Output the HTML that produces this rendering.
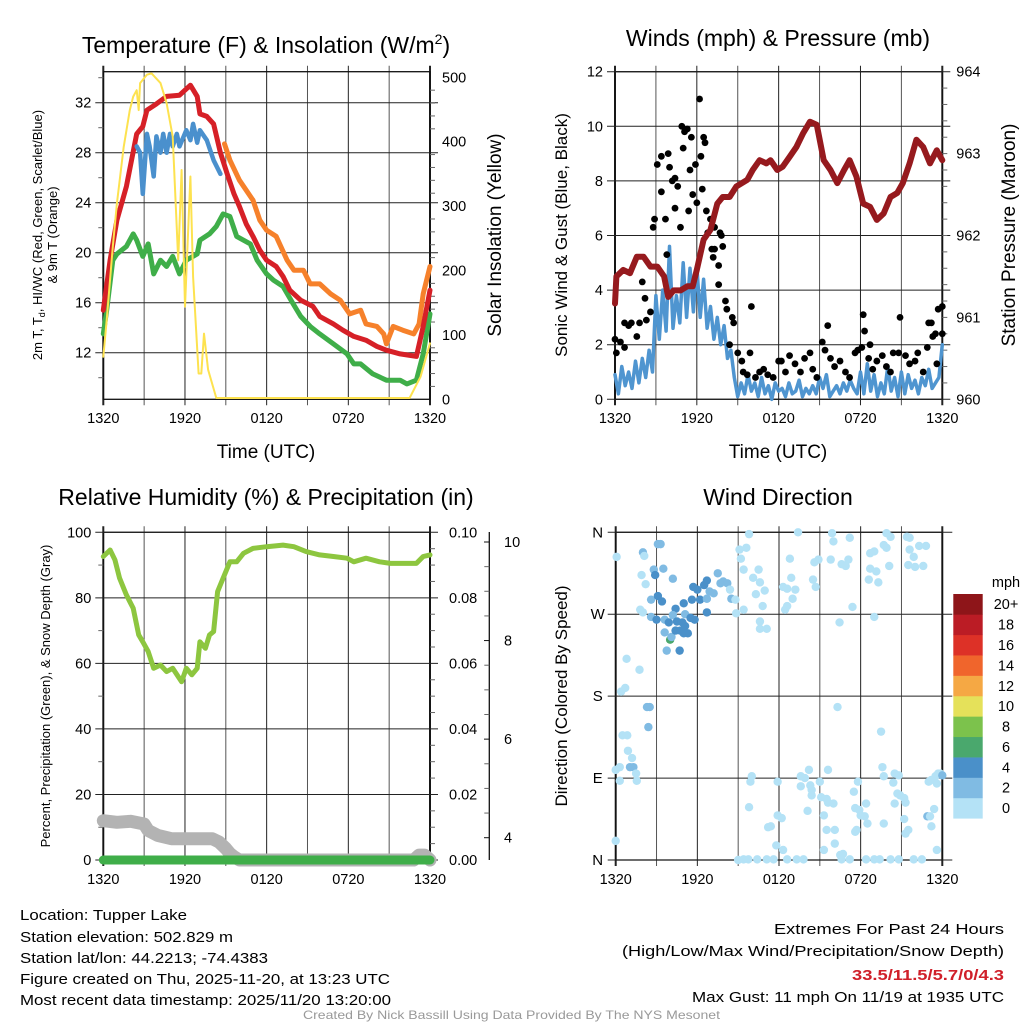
<!DOCTYPE html>
<html><head><meta charset="utf-8"><style>
html,body{margin:0;padding:0;background:#fff;}
svg{display:block;font-family:"Liberation Sans",sans-serif;}
</style></head><body>
<svg id="fig" width="1024" height="1024" viewBox="0 0 1024 1024" xmlns="http://www.w3.org/2000/svg">
<rect width="1024" height="1024" fill="#fff"/>
<g id="layer"></g>
<text x="266" y="53" font-size="23" text-anchor="middle">Temperature (F) &amp; Insolation (W/m<tspan dy="-9" font-size="14">2</tspan><tspan dy="9">)</tspan></text>
<text x="778" y="46" font-size="23" text-anchor="middle">Winds (mph) &amp; Pressure (mb)</text>
<text x="266" y="505" font-size="23" text-anchor="middle">Relative Humidity (%) &amp; Precipitation (in)</text>
<text x="778" y="505" font-size="23" text-anchor="middle">Wind Direction</text>
<text x="266" y="458" font-size="19" text-anchor="middle">Time (UTC)</text>
<text x="778" y="458" font-size="19" text-anchor="middle">Time (UTC)</text>
<text transform="translate(42,235) rotate(-90)" font-size="13" text-anchor="middle">2m T, T<tspan dy="3" font-size="9">d</tspan><tspan dy="-3">, HI/WC (Red, Green, Scarlet/Blue)</tspan></text>
<text transform="translate(57,235) rotate(-90)" font-size="13" text-anchor="middle">&amp; 9m T (Orange)</text>
<text transform="translate(501,235) rotate(-90)" font-size="19" text-anchor="middle">Solar Insolation (Yellow)</text>
<text transform="translate(567,235) rotate(-90)" font-size="17" text-anchor="middle">Sonic Wind &amp; Gust (Blue, Black)</text>
<text transform="translate(1015,235) rotate(-90)" font-size="19" text-anchor="middle">Station Pressure (Maroon)</text>
<text transform="translate(50,696) rotate(-90)" font-size="13" text-anchor="middle">Percent, Precipitation (Green), &amp; Snow Depth (Gray)</text>
<text transform="translate(567,696) rotate(-90)" font-size="17" text-anchor="middle">Direction (Colored By Speed)</text>
<g font-size="14.5">
<text x="20" y="920" textLength="167" lengthAdjust="spacingAndGlyphs">Location: Tupper Lake</text>
<text x="20" y="942" textLength="213" lengthAdjust="spacingAndGlyphs">Station elevation: 502.829 m</text>
<text x="20" y="963" textLength="248" lengthAdjust="spacingAndGlyphs">Station lat/lon: 44.2213; -74.4383</text>
<text x="20" y="984" textLength="370" lengthAdjust="spacingAndGlyphs">Figure created on Thu, 2025-11-20, at 13:23 UTC</text>
<text x="20" y="1005" textLength="371" lengthAdjust="spacingAndGlyphs">Most recent data timestamp: 2025/11/20 13:20:00</text>
</g>
<g font-size="14.5">
<text x="774" y="934" textLength="230" lengthAdjust="spacingAndGlyphs">Extremes For Past 24 Hours</text>
<text x="622" y="956" textLength="382" lengthAdjust="spacingAndGlyphs">(High/Low/Max Wind/Precipitation/Snow Depth)</text>
<text x="852" y="980" textLength="152" lengthAdjust="spacingAndGlyphs" fill="#d0202a" font-weight="bold">33.5/11.5/5.7/0/4.3</text>
<text x="692" y="1002" textLength="312" lengthAdjust="spacingAndGlyphs">Max Gust: 11 mph On 11/19 at 1935 UTC</text>
</g>
<text x="303" y="1019" textLength="417" lengthAdjust="spacingAndGlyphs" font-size="12" fill="#999">Created By Nick Bassill Using Data Provided By The NYS Mesonet</text>
</svg>
<script>
// ---------- DATA ----------
const xTickLabels = ["1320","1920","0120","0720","1320"];
const tempTicks = [12,16,20,24,28,32];
const solarTicks = [0,100,200,300,400,500];
const windTicks = [0,2,4,6,8,10,12];
const pressTicks = [960,961,962,963,964];
const rhTicks = [0,20,40,60,80,100];
const precipTicks = ["0.00","0.02","0.04","0.06","0.08","0.10"];
const snowTicks = [4,6,8,10];
const dirLabels = ["N","E","S","W","N"];
const speedBins = ["0","2","4","6","8","10","12","14","16","18","20+"];
const speedColors = ["#b4e2f6","#80bbe3","#4a90c9","#4aa86d","#7cc24c","#e5e15a","#f5a844","#f0652c","#dd3127","#bb1c25","#8e1519"];

const redHours = [0,0.5,1,1.7,2.45,2.9,3.2,3.9,4.65,5.6,6.4,6.9,7.1,7.6,8.1,8.6,9.1,9.6,10,10.5,11,11.5,12,12.7,13.2,13.7,14.5,15.4,15.9,16.9,17.6,18.4,19.3,20.1,20.8,21.8,23,23.5,24];
const redTemp = [15.4,19.4,22.6,25.3,29.5,30.1,31.4,31.9,32.5,32.6,33.4,32.5,31.1,30.9,30.3,28,26.3,24.7,23.7,22.3,21.3,20.2,19.4,18.9,18.1,17,16.2,15.7,14.9,14.3,13.8,13.3,13,12.5,12.2,11.9,11.7,14.1,17];
const greenHours = [0,0.25,0.7,1,1.7,2.2,2.45,2.9,3.3,3.7,4.2,4.65,5.1,5.6,6.1,6.9,7.1,7.8,8.3,8.8,9.3,9.8,10.3,10.8,11.3,12,12.5,13.2,13.9,14.5,15.2,15.9,16.9,17.9,18.4,18.9,19.8,20.8,21.8,22.3,23,23.5,24];
const greenTemp = [13.5,15.4,19.4,19.9,20.5,21.5,21,19.7,20.7,18.3,19.4,18.9,19.7,18.3,19.4,19.9,21,21.5,22.1,23.1,22.9,21.3,21,20.7,19.4,18.3,17.8,17.3,16,14.9,14.1,13.5,12.7,11.9,11.1,11.1,10.3,9.8,9.8,9.5,9.8,11.9,15.1];
const blueHours = [2.45,2.7,2.9,3.2,3.4,3.7,3.9,4.2,4.4,4.65,4.9,5.1,5.4,5.6,6.1,6.4,6.6,6.9,7.1,7.6,8.1,8.6];
const blueTemp = [28.5,28,24.7,29.5,28.5,26.1,29.3,28,29.5,28,29.5,28.5,29.5,28.5,29.8,29,30.3,28.8,29.8,29,27.4,26.3];
const orangeHours = [8.9,9.3,10,11,11.5,12,12.7,13.5,14,14.7,15.2,15.9,16.7,17.4,18.1,18.9,19.3,20.1,20.6,20.8,21.3,22,22.8,23.2,23.5,24];
const orangeTemp = [28.7,27.4,25.8,24.2,22.6,21.8,21.3,19.4,18.6,18.6,17.5,17.5,16.7,16.2,15.1,15.4,14.3,14.1,13.5,12.7,14.1,13.8,13.5,14.3,16.7,18.9];
const solarHours = [0,0.25,0.7,1,1.5,1.95,2.2,2.45,2.6,2.7,3.2,3.55,4.2,4.65,5.1,5.5,5.75,6,6.4,6.6,7,7.2,7.4,7.7,8.3,22.5,23.3,24];
const solarVals = [66,123,237,304,392,449,470,480,449,491,504,506,491,460,408,216,356,144,346,190,40,40,102,46,2,2,35,87];

const pressHours = [0,0.1,0.6,1.1,1.6,2.1,2.6,3.1,3.6,3.9,4.3,4.8,5.3,5.7,6,6.5,7,7.5,7.9,8.4,8.9,9.7,10.1,10.6,11.1,11.4,11.9,12.3,12.8,13.3,13.8,14.3,14.8,15.3,15.8,16.3,16.8,17.2,17.7,18.2,18.7,19.2,19.7,20.2,20.7,21.1,21.6,22.1,22.6,23.1,23.6,24];
const pressVals = [961.17,961.5,961.58,961.54,961.74,961.74,961.62,961.62,961.5,961.25,961.33,961.33,961.38,961.38,961.58,961.95,962.07,962.39,962.47,962.47,962.6,962.68,962.8,962.92,962.88,962.92,962.8,962.84,962.96,963.08,963.25,963.39,963.35,962.92,962.8,962.64,962.8,962.92,962.72,962.39,962.35,962.19,962.27,962.47,962.52,962.64,962.88,963.17,963.08,962.88,963.04,962.92];
const windSpeed = [0.9,0.2,1.2,0.5,1.0,0.4,1.4,0.6,1.5,0.8,1.8,1.0,3.8,2.2,4.0,2.5,5.6,2.6,3.8,2.8,5.0,3.0,4.8,3.2,4.9,3.0,4.4,2.6,3.4,2.2,3.0,2.0,2.7,1.5,1.8,0.8,0.1,0.6,0.2,0.9,0.3,0.6,0.1,0.8,0.2,0.5,0,0.6,0.3,0.4,0.1,0.6,0.2,0.3,0.7,0.1,0.4,0.2,0.5,0.2,0.8,0.4,0.9,0.1,0.3,0.5,0.2,0.6,0.3,0.7,0.4,0.2,1.0,0.2,1.3,0.3,0.9,0.1,0.6,0.2,1.2,0.3,0.8,0.1,1.0,0.2,0.9,0.4,0.7,0.2,0.8,0.5,1.1,0.4,0.6,0.8,2.0];
const gustHours = [0,0.1,0.4,0.7,0.7,1,1.2,1.6,1.8,2,2.2,2.3,2.6,2.8,2.9,3.1,3.4,3.4,3.7,3.8,3.9,4,4.2,4.4,4.4,4.6,4.8,4.9,5,5.1,5.3,5.4,5.5,5.6,5.7,5.9,6,6.2,6.3,6.4,6.5,6.6,6.7,6.8,7,7.1,7.2,7.3,7.3,7.6,7.7,7.8,7.9,7.6,8.1,8.2,8.6,8.7,8.4,9,9.3,9.4,9.7,9.9,10,10.3,10.6,10.9,11.2,11.6,12,12.2,12.5,12.8,13.2,13.6,13.9,14.3,14.5,14.8,15.2,15.4,15.6,15.8,16.1,16.5,16.9,17.2,17.6,17.8,18.1,18.2,18.3,18.6,18.7,18.9,19.2,19.6,19.9,20.2,20.4,20.8,20.9,21.3,21.6,22,22.2,22.6,22.9,23,23.2,23.3,23.5,23.6,23.7,24,24];
const gustVals = [2.2,1.7,2.1,1.9,2.8,2.7,2.8,2.3,2.8,4.3,3.7,2.9,3.2,6.3,6.6,8.6,7.6,8.9,6.6,5.3,9,8.5,8,8.1,7,7.8,6.3,10,9.2,9.8,9.9,6.9,8.4,9.6,7.5,8.6,7.2,11,8.9,7.7,9.6,9.4,6.9,6.1,6.6,5.5,5.2,5.5,6.3,4.9,6.1,6,5.6,4.2,3.6,3.3,3,2.8,2,1.7,1.4,1,0.9,1.7,3.4,0.8,1,1.1,0.9,0.8,1.4,1.4,1,1.6,1.3,1,1.5,1.7,1.1,0.8,2.1,1.8,2.7,1.5,1.2,1.4,1,0.8,1.7,1.8,1.9,3.1,2.5,1.5,2,1.1,1.4,1.6,1.2,1,1.7,1.7,3,1.6,1.3,1.4,1.7,1,1.9,2.8,2.8,2.3,2.4,1.3,3.3,3.4,2.4];

const rhHours = [0,0.5,0.85,1.2,1.7,2.2,2.6,2.9,3.3,3.7,4.2,4.65,5.1,5.75,6.1,6.5,6.9,7.1,7.5,7.8,8.1,8.4,8.8,9.3,9.8,10.3,11,12,13.2,14,14.9,15.9,16.9,17.9,18.4,19.3,20.3,21.1,21.8,23,23.5,24];
const rhVals = [92.6,94.6,91.6,86,80.9,76.8,68.7,66.6,63.6,58.5,59.5,57.5,58.5,54.4,58.5,56.5,58.5,66.6,64.6,68.7,69.7,81.9,86,91,91,93.6,95.1,95.6,96.1,95.6,94.1,93.1,92.6,92.1,91,92.1,91,90.5,90.5,90.5,92.6,93.1];
const snowHours = [0,1,2,3,3.3,4,4.5,5,6,7,8,8.5,9,9.3,9.6,10,11,22.8,23.2,23.6,24];
const snowVals = [12,11.5,11.8,11,9,7.5,7,6.5,6.5,6.5,6.5,5.5,3.5,2,1,0,0,0,1.5,1.5,0];
const precipHours = [0,24];
const precipVals = [0,0];

const dirHours = [0.07,0,0,0.3,0.3,0.8,0.7,0.4,0.5,0.85,0.9,1.2,1.05,1.3,1.5,1.55,1.75,2.3,2.5,2.4,1.8,2,1.9,2.2,2,2.1,2.8,2.9,3.1,3.3,3.5,4.2,2.6,3.1,3.4,2.6,3,3.6,3.9,4.4,4.2,3.6,4,4.1,3.75,4.7,4.5,4.9,5.1,5.3,5,4.75,4.4,5,5.1,5.5,5.8,5.6,5.7,6,6.2,6.5,6.7,6.9,7.2,7.5,7.7,7.9,8.2,6.7,6.7,8.4,8.5,8.8,8.85,9.4,9.1,9.2,9.4,9.6,9.8,10.1,10.5,10.6,10.3,10.95,10.8,10.6,10.6,11.1,12.45,12.6,12.3,12.6,12.9,13,13.2,12.8,13.4,14.6,14.9,14.5,14.7,15.8,15.9,16,16.45,16.6,16.9,17.1,17.2,17.4,18.6,18.7,19,18.7,19.15,19.3,19,19.7,19.9,19.9,20.2,20.1,21.4,21.6,21.6,21.9,21.5,22,22.6,22.3,22.8,9,9.4,9.75,10.4,9.9,10,9.8,11.1,11.6,11.2,11.4,11.8,11.9,11.9,12.2,12.3,12.6,13.3,13.8,13.6,13.6,13.9,14.2,14.3,14.4,14.4,14.1,15,15.1,15.5,15.6,15.6,16,15.3,15.5,16.1,15.3,16.1,16.5,16.7,16.6,17.2,16.3,17.5,17.8,17.6,17.9,18,18.3,18.4,18.5,17.6,17.7,18.4,19,19.4,19.5,19.6,19.7,20.4,20.5,20.8,20.7,20.9,21.2,21.3,20.5,19.7,21.2,21.3,21.5,20.2,20.8,21.9,22.5,23,23.2,23.5,23.6,23.7,23.85,24,22.9,23.1,23.4,23.2,23.6];
const dirVals = [333,21,99,102,87,221,189,185,137,137,120,112,102,102,95,87,209,168,168,146,275,272,313,303,338,334,319,313,347,347,320,309,286,290,284,267,264,264,261,276,269,250,242,245,230,230,262,261,257,249,249,252,252,282,270,266,264,286,300,297,286,302,307,295,293,315,304,306,304,272,287,297,287,286,271,275,341,331,319,343,358,310,319,305,292,296,279,262,254,254,275,279,300,298,310,287,297,331,360,327,330,308,300,330,359,350,261,325,323,330,354,278,308,337,339,320,317,305,267,346,343,359,355,323,355,354,341,333,324,322,323,345,345,0,0.7,0.7,0.7,86,92,58,0.7,0.7,36,37,16,86,49,46,11,0.7,0.7,0.7,92,81,90,99,82,77,71,54,86,69,67,99,63,62,49,33,33,11,18,5.5,6.6,0.7,0.7,168,75,86,57,55,49,48,62,40,31,33,0.7,0.7,0.7,141,102,92,85,95,93,73,71,68,63,62,40,45,29,33,0.7,0.7,0.7,0.7,86,88,92,84,95,95,93,48,48,56,37,11];
const dirSpeed = [1,1,1,1,1,1,1,1,1,1,1,1,2,2.5,1,1,1,2,2,2,1,1,1,1,2.5,1,3,4,3,2.5,3,3,3,4,4,3,4,2.5,4,4,3,2.5,6.5,2,3,4,4.5,4.5,4,4,4,4,4,4,3,4,4,4.5,4.5,4,4,4.5,4,3,3,3.5,3,3,2.5,4,3,1.5,2.5,1.5,1,1,1,1,1,1,1,1,1,1,1,1,1,1,1,1,1,1,1,1,1,1,1,1,1,1,1,1,1,1,1,1,1,1,1,1,1,1,1,1,1,1,1,1,1,1,1,1,1,1,1,1,1,1,1,1,1,1,1,1,1,1,1,1,1,1,1,1,1,1,1,1,1,1,1,1,1,1,1,1,1,1,1,1,1,1,1,1,1,1,1,1,1,1,1,1,1,1,1,1,1,1,1,1,1,1,1,1,1,1,1,1,1,1,1,1,1,1,1,1,1,1,1,1,1,1,1,1,1,1,1,1,1,1,1,1,1,1,1,1,2.5,3,1,1,1,1,1,1];

// ---------- DRAW ----------
const NS = "http://www.w3.org/2000/svg";
const layer = document.getElementById("layer");
function mk(tag, attrs, parent) {
  const e = document.createElementNS(NS, tag);
  for (const k in attrs) e.setAttribute(k, attrs[k]);
  (parent || layer).appendChild(e);
  return e;
}
function lin(d0, d1, r0, r1) { return v => r0 + (v - d0) * (r1 - r0) / (d1 - d0); }

function frame(p, name, xLabelY) {
  const g = mk("g", {});
  
  
  for (let h = 0; h <= 24; h += 3) {
    const x = p.x(h);
    const l = mk("line", {x1:x, x2:x, y1:p.top - 6, y2:p.bot + 6, stroke: (h % 6 === 0) ? "#222" : "#555", "stroke-width": (h===0||h===24)?2:1}, g);
    
    
  }
  for (let i = 0; i < xTickLabels.length; i++) {
    const t = mk("text", {x: p.x(i * 6), y: xLabelY, "font-size": 14.5, "text-anchor": "middle"}, g);
    t.textContent = xTickLabels[i];
    
    
  }
  const b = mk("rect", {x:p.left, y:p.top, width:p.right - p.left, height:p.bot - p.top, fill:"none", stroke:"#111", "stroke-width":1.3}, g);
  
  
  return g;
}
function hgrid(g, p, y, ext) {
  const l = mk("line", {x1:p.left - 8, x2:p.right + (ext||8), y1:y, y2:y, stroke:"#222", "stroke-width":1}, g);
  
  
}
function label(g, x, y, txt, anchor, name, size) {
  const t = mk("text", {x:x, y:y + 5, "font-size": size || 14.5, "text-anchor": anchor}, g);
  t.textContent = txt;
  
  
}
function minor(g, x, y, dir) {
  mk("line", {x1:x, x2:x + dir * 5, y1:y, y2:y, stroke:"#666", "stroke-width":1}, g);
}
function line(xs, ys, fx, fy, color, w, name, parent) {
  const pts = xs.map((h, i) => fx(h).toFixed(1) + "," + fy(ys[i]).toFixed(1)).join(" ");
  const pl = mk("polyline", {points: pts, fill:"none", stroke: color, "stroke-width": w, "stroke-linejoin":"round", "stroke-linecap":"round"}, parent);
  
  
  return pl;
}

// Panel 1: temperature
{
  const p = {left:103.3, right:430, top:71.7, bot:399.3};
  p.x = lin(0, 24, p.left, p.right);
  const yT = lin(12, 32, 352.7, 102.7);
  const yS = lin(0, 500, 399.3, 77.3);
  const g = frame(p, "temperature", 423);
  tempTicks.forEach(v => { hgrid(g, p, yT(v)); label(g, p.left - 12, yT(v), String(v), "end", "temp-tick-label"); });
  [10,14,18,22,26,30,34].forEach(v => minor(g, p.left, yT(v), -1));
  solarTicks.forEach(v => label(g, p.right + 12, yS(v), String(v), "start", "solar-tick-label"));
  for (let v = 20; v < 500; v += 20) if (v % 100) minor(g, p.right, yS(v), 1);
  const s = mk("g", {});
  
  
  line(orangeHours, orangeTemp, p.x, yT, "#f6812b", 5, "9m-temp-line", s);
  line(greenHours, greenTemp, p.x, yT, "#3fae49", 5, "dewpoint-line", s);
  line(redHours, redTemp, p.x, yT, "#d62027", 5, "2m-temp-line", s);
  line(blueHours, blueTemp, p.x, yT, "#4a90cd", 4.5, "wind-chill-line", s);
  line(solarHours, solarVals, p.x, yS, "#fde24f", 2, "solar-insolation-line", s);
}

// Panel 2: winds & pressure
{
  const p = {left:615, right:942.3, top:71.7, bot:399.3};
  p.x = lin(0, 24, p.left, p.right);
  const yW = lin(0, 12, 399.3, 71.7);
  const yP = lin(960, 964, 399.3, 71.7);
  const g = frame(p, "winds", 423);
  windTicks.forEach(v => { hgrid(g, p, yW(v)); label(g, p.left - 12, yW(v), String(v), "end", "wind-tick-label"); });
  pressTicks.forEach(v => label(g, p.right + 14, yP(v), String(v), "start", "pressure-tick-label"));
  for (let v = 960.2; v < 964; v += 0.2) minor(g, p.right, yP(v), 1);
  const s = mk("g", {});
  
  
  const wh = windSpeed.map((v, i) => i * 24 / (windSpeed.length - 1));
  line(wh, windSpeed, p.x, yW, "#4f95d0", 3.5, "sonic-wind-line", s);
  gustHours.forEach((h, i) => {
    const c = mk("circle", {cx: p.x(h), cy: yW(gustVals[i]), r: 3.4, fill:"#000"}, s);
    
    
  });
  line(pressHours, pressVals, p.x, yP, "#961a1e", 6, "pressure-line", s);
}

// Panel 3: RH & precip
{
  const p = {left:103.3, right:430, top:532.3, bot:860};
  p.x = lin(0, 24, p.left, p.right);
  const yR = lin(0, 100, 860, 532.3);
  const ySn = lin(4, 10, 837.7, 542);
  const g = frame(p, "humidity", 884);
  rhTicks.forEach((v, i) => {
    hgrid(g, p, yR(v));
    label(g, p.left - 12, yR(v), String(v), "end", "rh-tick-label");
    label(g, p.right + 19, yR(v), precipTicks[i], "start", "precip-tick-label");
  });
  for (let v = 10; v < 100; v += 20) minor(g, p.left, yR(v), -1);
  for (let v = 5; v < 100; v += 5) if (v % 20) minor(g, p.right, yR(v), 1);
  const ax = mk("line", {x1:489.3, x2:489.3, y1:532, y2:860, stroke:"#111", "stroke-width":1.3}, g);
  
  
  snowTicks.forEach(v => { mk("line", {x1:484, x2:489.3, y1:ySn(v), y2:ySn(v), stroke:"#111"}, g); label(g, 504, ySn(v), String(v), "start", "snow-tick-label"); });
  for (let v = 4.5; v < 10.2; v += 0.5) if (v % 2) minor(g, 489.3, ySn(v), -1);
  const s = mk("g", {});
  
  
  line(snowHours, snowVals, p.x, yR, "#b3b3b3", 13, "snow-depth-line", s);
  line(precipHours, precipVals, p.x, yR, "#3fae49", 9, "precipitation-line", s);
  line(rhHours, rhVals, p.x, yR, "#8dc63f", 5, "relative-humidity-line", s);
}

// Panel 4: wind direction
{
  const p = {left:615.7, right:942.3, top:532.3, bot:860};
  p.x = lin(0, 24, p.left, p.right);
  const yD = lin(0, 360, 860, 532.3);
  const g = frame(p, "wind-direction", 884);
  dirLabels.forEach((lab, i) => { hgrid(g, p, yD(i * 90), 10); label(g, p.left - 18, yD(i * 90), lab, "middle", "direction-tick-label", 15); });
  const s = mk("g", {});
  
  
  dirHours.forEach((h, i) => {
    const bin = Math.min(10, Math.floor(dirSpeed[i] / 2));
    const c = mk("circle", {cx: p.x(h), cy: yD(dirVals[i]), r: 4.2, fill: speedColors[bin]}, s);
    
    
  });
  const cb = mk("g", {});
  
  
  const bh = (818.3 - 594) / speedBins.length;
  speedBins.forEach((lab, i) => {
    const y = 818.3 - (i + 1) * bh;
    const r = mk("rect", {x:953.3, y:y, width:29.4, height:bh + 0.3, fill: speedColors[i]}, cb);
    
    
    label(cb, 1006, y + bh / 2, lab, "middle", "colorbar-label", 14.5);
  });
  label(cb, 1006, 582, "mph", "middle", "colorbar-unit", 14.5);
}
</script>
</body></html>
